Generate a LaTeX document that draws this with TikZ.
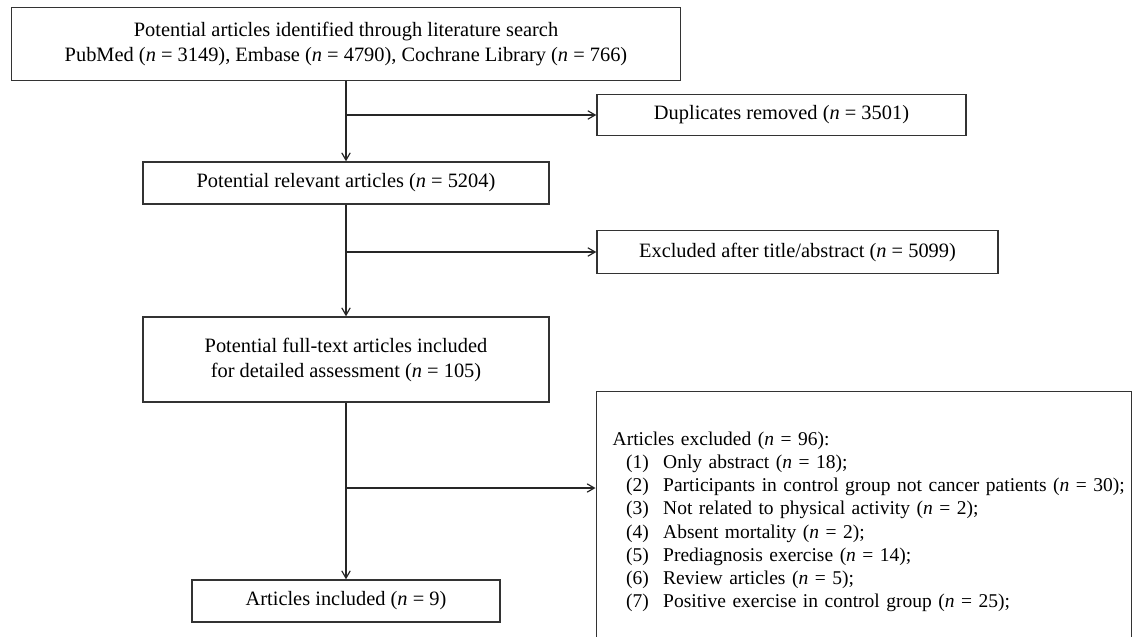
\documentclass[tikz,border=0pt]{standalone}
\usepackage{fontspec}
\setmainfont{Liberation Serif}
\usepackage{xcolor}
\usetikzlibrary{arrows, positioning}

\begin{document}
\begin{tikzpicture}[x=1pt, y=-1pt, auto,
    block/.style={rectangle, draw=black!80, line width=0.7pt, text centered, inner sep=0pt, font=\fontsize{10.2}{12.5}\selectfont},
    arrow/.style={line width=0.6pt, draw=black!85, ->, >=angle 60}]

    \useasboundingbox (0,0) rectangle (567.5,318.5);

    % main column
    \node [block, minimum width=334.5pt, minimum height=36.5pt, align=center] (search) at (173,22)
        {Potential articles identified through literature search\\
         PubMed (\textit{n} = 3149), Embase (\textit{n} = 4790), Cochrane Library (\textit{n} = 766)};
    \node [block, below of=search, node distance=69.5pt, minimum width=203pt, minimum height=21pt] (relevant)
        {Potential relevant articles (\textit{n} = 5204)};
    \node [block, below of=relevant, node distance=88.25pt, minimum width=203pt, minimum height=42.5pt, align=center] (fulltext)
        {Potential full-text articles included\\ for detailed assessment (\textit{n} = 105)};
    \node [block, below of=fulltext, node distance=120.75pt, minimum width=154pt, minimum height=21pt] (included)
        {Articles included (\textit{n} = 9)};

    % excluded side
    \node [block, minimum width=184.5pt, minimum height=20.5pt] (dups) at (390.75,57.5)
        {Duplicates removed (\textit{n} = 3501)};
    \node [block, minimum width=200.5pt, minimum height=21.5pt] (screened) at (398.75,126)
        {Excluded after title/abstract (\textit{n} = 5099)};
    \node [block, anchor=north west, minimum width=267.5pt, minimum height=135pt, text width=267.5pt,
           font=\fontsize{9.75}{12}\selectfont] (reasons) at (297.75,195.5)
        {\parbox[c][135pt][t]{262pt}{\vspace*{18.5pt}\hspace*{5.5pt}%
         \renewcommand{\arraystretch}{0.97}%
         \begin{tabular}{@{}p{25.25pt}@{}l@{}}
         \multicolumn{2}{@{}l}{Articles excluded (\textit{n} = 96):}\\
         \hspace*{6.75pt}(1) & Only abstract (\textit{n} = 18);\\
         \hspace*{6.75pt}(2) & Participants in control group not cancer patients (\textit{n} = 30);\\
         \hspace*{6.75pt}(3) & Not related to physical activity (\textit{n} = 2);\\
         \hspace*{6.75pt}(4) & Absent mortality (\textit{n} = 2);\\
         \hspace*{6.75pt}(5) & Prediagnosis exercise (\textit{n} = 14);\\
         \hspace*{6.75pt}(6) & Review articles (\textit{n} = 5);\\
         \hspace*{6.75pt}(7) & Positive exercise in control group (\textit{n} = 25);
         \end{tabular}}};

    \coordinate (b1) at (search.south |- dups.west);
    \coordinate (b2) at (search.south |- screened.west);
    \coordinate (b3) at (172.5,244);

    \draw [arrow] (search) -- (relevant);
    \draw [arrow] (relevant) -- (fulltext);
    \draw [arrow] (fulltext) -- (included);
    \draw [arrow] (b1) -- (dups);
    \draw [arrow] (b2) -- (screened);
    \draw [arrow] (b3) -- (b3 -| reasons.west);
\end{tikzpicture}
\end{document}
